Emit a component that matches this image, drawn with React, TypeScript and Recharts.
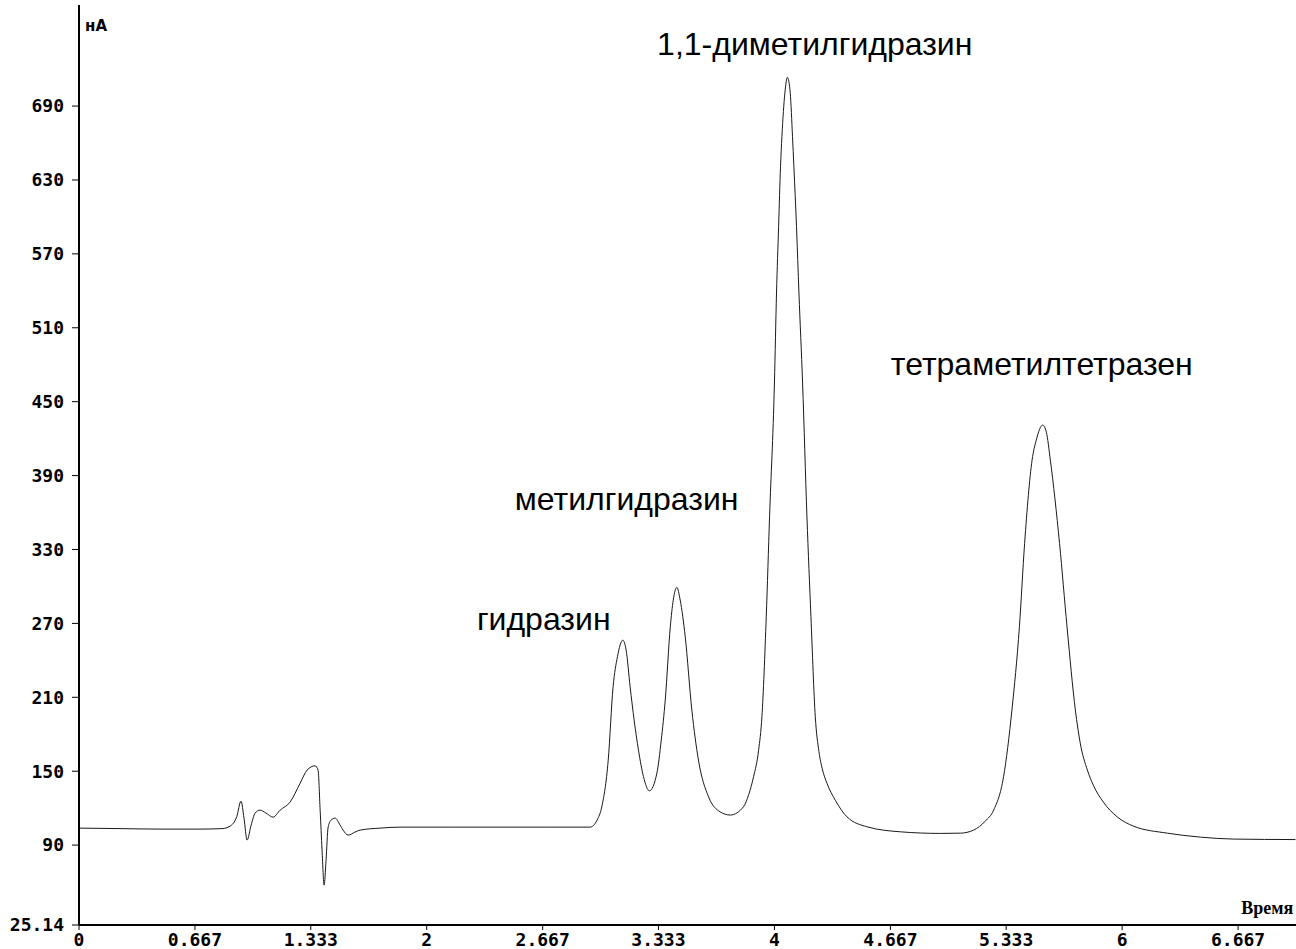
import React from 'react';
import { LineChart, Line, XAxis, YAxis, ReferenceDot, Label } from 'recharts';

// Retention time, min
const timeMin = [
  0, 0.236, 0.466, 0.696, 0.823, 0.869, 0.907, 0.932, 0.949, 0.967,
  0.99, 1.013, 1.041, 1.076, 1.116, 1.157, 1.214, 1.272, 1.312, 1.358,
  1.375, 1.387, 1.398, 1.41, 1.421, 1.433, 1.45, 1.473, 1.502, 1.519,
  1.548, 1.588, 1.617, 1.732, 1.847, 2.135, 2.422, 2.71, 2.94, 2.98,
  3.007, 3.044, 3.072, 3.097, 3.128, 3.147, 3.17, 3.193, 3.218, 3.247,
  3.281, 3.324, 3.349, 3.372, 3.401, 3.418, 3.439, 3.458, 3.487, 3.525,
  3.563, 3.621, 3.688, 3.746, 3.822, 3.852, 3.88, 3.909, 3.928, 3.953,
  3.972, 4.0, 4.012, 4.024, 4.035, 4.043, 4.06, 4.075, 4.091, 4.104,
  4.112, 4.127, 4.141, 4.162, 4.187, 4.21, 4.235, 4.256, 4.275, 4.302, 4.35,
  4.417, 4.532, 4.724, 4.954, 5.069, 5.146, 5.213, 5.261, 5.318, 5.366,
  5.409, 5.439, 5.482, 5.506, 5.543, 5.564, 5.587, 5.64, 5.683, 5.731,
  5.759, 5.8, 5.834, 5.892, 5.971, 6.065, 6.26, 6.45, 6.64, 6.997,
];

// Detector signal, nA
const signalNA = [
  103.8, 103.4, 103.0, 103.0, 103.4, 105.4, 113.0, 125.7, 111.9, 94.1,
  106.2, 116.0, 118.4, 116.0, 112.7, 118.4, 124.9, 140.3, 150.9, 154.4,
  150.9, 118.4, 85.9, 57.5, 77.8, 104.6, 110.3, 111.9, 106.2, 102.2,
  98.1, 100.6, 102.2, 103.8, 104.6, 104.6, 104.6, 104.6, 104.6, 110.3,
  121.1, 159.0, 218.5, 242.9, 256.4, 248.3, 218.5, 191.5, 167.1, 145.5,
  134.1, 148.5, 175.2, 207.7, 267.2, 288.9, 299.2, 288.9, 259.1, 199.6,
  159.0, 129.2, 117.0, 114.4, 121.1, 131.0, 145.5, 167.0, 194.2, 275.4,
  356.5, 465.1, 538.2, 592.0, 640.7, 665.1, 700.5, 713.3, 700.5, 665.1,
  640.7, 592.0, 538.2, 465.1, 356.5, 275.4, 194.2, 166.0, 152.0, 140.3, 126.5,
  113.0, 104.9, 100.8, 99.5, 99.7, 102.2, 109.5, 118.4, 145.5, 199.6,
  267.2, 334.9, 402.6, 418.8, 431.0, 425.3, 402.6, 334.9, 267.2, 199.6,
  172.8, 150.9, 138.7, 124.9, 113.0, 105.4, 99.7, 96.5, 94.9, 94.5,
];

const xTicks = [0, 0.667, 1.333, 2, 2.667, 3.333, 4, 4.667, 5.333, 6, 6.667];
const xTickLabels = ['0', '0.667', '1.333', '2', '2.667', '3.333', '4', '4.667', '5.333', '6', '6.667'];
const yTicks = [25.14, 90, 150, 210, 270, 330, 390, 450, 510, 570, 630, 690];
const yTickLabels = ['25.14', '90', '150', '210', '270', '330', '390', '450', '510', '570', '630', '690'];

const peakNames = ['гидразин', 'метилгидразин', '1,1-диметилгидразин', 'тетраметилтетразен'];
const peakLabelTime = [2.673, 3.15, 4.232, 5.538];
const peakLabelSignal = [273.5, 371.0, 740.5, 480.5];

const yUnit = 'нА';
const xUnit = 'Время';

const data = timeMin.map((t, i) => ({ t, v: signalNA[i] }));

const tickFont = { fontFamily: 'DejaVu Sans Mono', fontWeight: 700, fontSize: 18, fill: '#000' };

export default function App() {
  return (
    <div style={{ position: 'absolute', left: 0, top: 0, width: 1296, height: 949, background: '#fff', overflow: 'hidden' }}>
      <LineChart width={1296} height={949} data={data} margin={{ top: 5, right: 0, bottom: 0, left: 0 }}>
        <XAxis
          dataKey="t"
          type="number"
          domain={[0, 7]}
          ticks={xTicks}
          interval={0}
          tickFormatter={(v: number, i: number) => xTickLabels[i] ?? String(v)}
          height={24}
          tickSize={5}
          tickMargin={3}
          axisLine={{ stroke: '#000', strokeWidth: 2 }}
          tickLine={{ stroke: '#000' }}
          tick={tickFont}
        />
        <YAxis
          type="number"
          domain={[25.14, 772.05]}
          ticks={yTicks}
          interval={0}
          tickFormatter={(v: number, i: number) => yTickLabels[i] ?? String(v)}
          width={79}
          tickSize={7}
          tickMargin={8}
          axisLine={{ stroke: '#000', strokeWidth: 2 }}
          tickLine={{ stroke: '#000' }}
          tick={tickFont}
        />
        <Line
          type="monotone"
          dataKey="v"
          stroke="#1a1a1a"
          strokeWidth={1}
          dot={false}
          isAnimationActive={false}
        />
        {peakNames.map((name, i) => (
          <ReferenceDot key={name} x={peakLabelTime[i]} y={peakLabelSignal[i]} r={0} fill="none" stroke="none">
            <Label value={name} position="center" fill="#000" fontSize={32} fontFamily="Liberation Sans, Arial, sans-serif" />
          </ReferenceDot>
        ))}
        <ReferenceDot x={0.098} y={754.9} r={0} fill="none" stroke="none">
          <Label value={yUnit} position="center" fill="#000" fontSize={15} fontWeight={700} fontFamily="DejaVu Sans" />
        </ReferenceDot>
        <ReferenceDot x={6.835} y={39.3} r={0} fill="none" stroke="none">
          <Label value={xUnit} position="center" fill="#000" fontSize={18} fontWeight={700} fontFamily="Liberation Serif" />
        </ReferenceDot>
      </LineChart>
    </div>
  );
}
